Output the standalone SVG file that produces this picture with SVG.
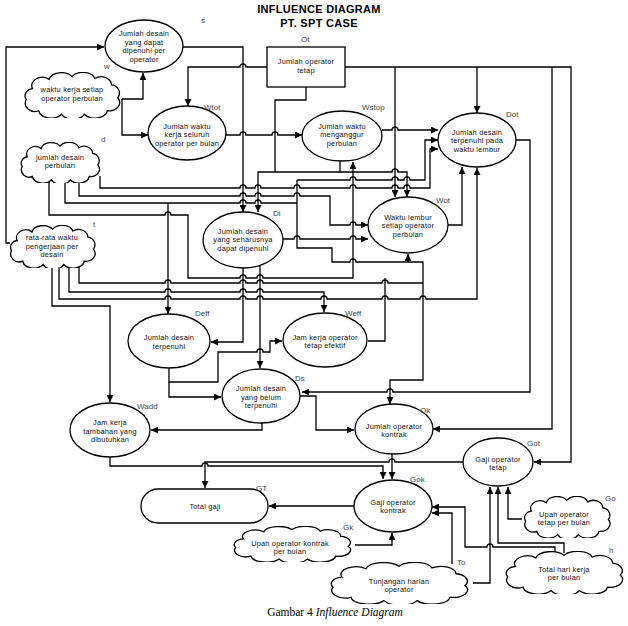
<svg xmlns="http://www.w3.org/2000/svg" xmlns:xlink="http://www.w3.org/1999/xlink" width="628" height="626" viewBox="0 0 628 626">
<style>
.n{fill:#fff;stroke:#000;stroke-width:1.3}
.t{font-family:"Liberation Sans",Arial,sans-serif;font-size:7.4px;letter-spacing:0.2px;fill:#111;text-anchor:middle}
.lb{font-family:"Liberation Sans",Arial,sans-serif;font-size:8px;fill:#444}
.c{fill:none;stroke:#000;stroke-width:1.3}
.a{marker-end:url(#ah)}
.ttl{font-family:"Liberation Sans",Arial,sans-serif;font-size:11px;font-weight:bold;letter-spacing:0.3px;text-anchor:middle}
.cap{font-family:"Liberation Serif","Times New Roman",serif;font-size:11.5px;text-anchor:middle}
</style>
<defs>
<marker id="ah" viewBox="0 0 8 8" refX="8" refY="4" markerWidth="7" markerHeight="7" markerUnits="userSpaceOnUse" orient="auto"><path d="M0,0 L8,4 L0,8 z" fill="#000"/></marker>
<symbol id="cloud" viewBox="0 0 100 50" preserveAspectRatio="none"><path vector-effect="non-scaling-stroke" fill="#fff" stroke="#000" stroke-width="1.3" d="M12,18 A10,9 0 0 1 28,8 A12,9 0 0 1 50,5 A12,9 0 0 1 72,7 A10,9 0 0 1 88,14 A9,9 0 0 1 94,28 A10,9 0 0 1 84,42 A12,9 0 0 1 62,46 A12,9 0 0 1 40,46 A12,9 0 0 1 18,42 A9,9 0 0 1 6,30 A8,8 0 0 1 12,18 Z"/></symbol>
</defs>
<rect width="628" height="626" fill="#fff"/>
<text class="ttl" x="319" y="13">INFLUENCE DIAGRAM</text>
<text class="ttl" x="319" y="26.5">PT. SPT CASE</text>

<g id="connectors">
<path class="c a" d="M10,243 H6 V47 H104"/>
<path class="c a" d="M122,99 H143 V73"/>
<path class="c a" d="M122,99 V135 H148"/>
<path class="c a" d="M183,47 H243 V212"/>
<path class="c a" d="M267,67 H246 a3,3 0 0 0 -6,0 H188 V106"/>
<path class="c a" d="M345,67 H571 V462 H534"/>
<path class="c a" d="M477,67 V113"/>
<path class="c a" d="M395,67 V197"/>
<path class="c a" d="M552,67 V429 H433"/>
<path class="c a" d="M226,135 H240 a3,3 0 0 1 6,0 H272 a3,3 0 0 1 6,0 H302"/>
<path class="c a" d="M382,130 H392 a3,3 0 0 1 6,0 H438"/>
<path class="c a" d="M340,161 V172 H258 V212"/>
<path class="c a" d="M340,172 H392 a3,3 0 0 1 6,0 H407 V197"/>
<path class="c" d="M306,87 V100 H275 V172"/>
<path class="c a" d="M100,176 V188 H240 a3,3 0 0 1 6,0 H255 a3,3 0 0 1 6,0 H294 a3,3 0 0 1 6,0 H350 a3,3 0 0 1 6,0 H392 a3,3 0 0 1 6,0 H404 a3,3 0 0 1 6,0 H430 V149 H438"/>
<path class="c a" d="M79,179 V196 H240 a3,3 0 0 1 6,0 H255 a3,3 0 0 1 6,0 H294 a3,3 0 0 1 6,0 H330 V225 H350 a3,3 0 0 1 6,0 H368"/>
<path class="c" d="M65,180 V203 H240 a3,3 0 0 1 6,0 H255 a3,3 0 0 1 6,0 H297"/>
<path class="c a" d="M168,203 V314"/>
<path class="c a" d="M297,180 V248 H332 V262 H350 a3,3 0 0 1 6,0 H423 V380 H390 V404"/>
<path class="c a" d="M408,262 V254"/>
<path class="c a" d="M297,180 H350 a3,3 0 0 1 6,0 H392 a3,3 0 0 1 6,0 H404 a3,3 0 0 1 6,0 H425 V140 H438"/>
<path class="c a" d="M49,181 V215 H165 a3,3 0 0 1 6,0 H188 V278 H240 a3,3 0 0 1 6,0 H257 a3,3 0 0 1 6,0 H353 V162"/>
<path class="c" d="M368,341 H385 V278"/>
<path class="c" d="M79,265 V283 H165 a3,3 0 0 1 6,0 H240 a3,3 0 0 1 6,0 H257 a3,3 0 0 1 6,0 H382 a3,3 0 0 1 6,0 H423"/>
<path class="c a" d="M69,266 V292 H165 a3,3 0 0 1 6,0 H240 a3,3 0 0 1 6,0 H257 a3,3 0 0 1 6,0 H324 V312"/>
<path class="c a" d="M59,266 V299 H165 a3,3 0 0 1 6,0 H240 a3,3 0 0 1 6,0 H257 a3,3 0 0 1 6,0 H321 a3,3 0 0 1 6,0 H382 a3,3 0 0 1 6,0 H420 a3,3 0 0 1 6,0 H477 V168"/>
<path class="c a" d="M52,264 V306 H110 V402"/>
<path class="c a" d="M243,268 V342 H211"/>
<path class="c a" d="M260,265 V368"/>
<path class="c a" d="M283,239 H294 a3,3 0 0 1 6,0 H350 a3,3 0 0 1 6,0 H368"/>
<path class="c a" d="M169,368 V382 H218 V352 H257 a3,3 0 0 1 6,0 H270 V341 H282"/>
<path class="c a" d="M169,382 V397 H221"/>
<path class="c a" d="M262,423 V430 H151"/>
<path class="c a" d="M300,396 H316 V430 H354"/>
<path class="c a" d="M516,140 H530 V392 H393 a3,3 0 0 0 -6,0 H302"/>
<path class="c a" d="M448,225 H462 V167"/>
<path class="c a" d="M110,457 V466 H202 a3,3 0 0 1 6,0 H383 V479"/>
<path class="c a" d="M463,462 H395 a3,3 0 0 0 -6,0 H205 V488"/>
<path class="c a" d="M392,454 V479"/>
<path class="c a" d="M354,506 H269"/>
<path class="c a" d="M355,545 H392 V533"/>
<path class="c a" d="M452,564 V513 H432"/>
<path class="c a" d="M555,553 V547 H493 a3,3 0 0 0 -6,0 H465 V507 H432"/>
<path class="c a" d="M564,553 V543 H498 V487"/>
<path class="c a" d="M473,583 H490 V487"/>
<path class="c a" d="M522,519 H508 V487"/>
</g>

<g id="s"><ellipse class="n" cx="144" cy="46" rx="39" ry="26"/>
<text class="t" x="144" y="36">Jumlah desain</text><text class="t" x="144" y="44.5">yang dapat</text><text class="t" x="144" y="53">dipenuhi per</text><text class="t" x="144" y="61.5">operator</text>
<text class="lb" x="201" y="23">s</text></g>

<g id="w"><use href="#cloud" x="20" y="72" width="104" height="46"/>
<text class="t" x="72" y="92">waktu kerja setiap</text><text class="t" x="72" y="100.5">operator perbulan</text>
<text class="lb" x="104" y="69">w</text></g>

<g id="Wtot"><ellipse class="n" cx="187" cy="133" rx="39" ry="27"/>
<text class="t" x="187" y="128.5">Jumlah waktu</text><text class="t" x="187" y="137">kerja seluruh</text><text class="t" x="187" y="145.5">operator per bulan</text>
<text class="lb" x="204" y="110">Wtot</text></g>

<g id="Ot"><rect class="n" x="267" y="47" width="78" height="40"/>
<text class="t" x="306" y="64">Jumlah operator</text><text class="t" x="306" y="72.5">tetap</text>
<text class="lb" x="301" y="42">Ot</text></g>

<g id="Wstop"><ellipse class="n" cx="342" cy="136" rx="40" ry="25"/>
<text class="t" x="342" y="128.5">Jumlah waktu</text><text class="t" x="342" y="137">menganggur</text><text class="t" x="342" y="145.5">perbulan</text>
<text class="lb" x="362" y="110">Wstop</text></g>

<g id="Dot"><ellipse class="n" cx="477" cy="140" rx="39" ry="27"/>
<text class="t" x="477" y="134.5">Jumlah desain</text><text class="t" x="477" y="143">terpenuhi pada</text><text class="t" x="477" y="151.5">waktu lembur</text>
<text class="lb" x="506" y="117">Dot</text></g>

<g id="d"><use href="#cloud" x="17" y="142" width="86" height="41"/>
<text class="t" x="60" y="159.5">jumlah desain</text><text class="t" x="60" y="168">perbulan</text>
<text class="lb" x="101" y="142">d</text></g>

<g id="Di"><ellipse class="n" cx="243" cy="240" rx="40" ry="28"/>
<text class="t" x="243" y="233.5">Jumlah desain</text><text class="t" x="243" y="242">yang seharusnya</text><text class="t" x="243" y="250.5">dapat dipenuhi</text>
<text class="lb" x="273" y="216">Di</text></g>

<g id="Wot"><ellipse class="n" cx="408" cy="225" rx="40" ry="28"/>
<text class="t" x="408" y="219.5">Waktu lembur</text><text class="t" x="408" y="228">setiap operator</text><text class="t" x="408" y="236.5">perbulan</text>
<text class="lb" x="436" y="203">Wot</text></g>

<g id="t"><use href="#cloud" x="6" y="225" width="93" height="43"/>
<text class="t" x="52" y="240">rata-rata waktu</text><text class="t" x="52" y="248.5">pengerjaan per</text><text class="t" x="52" y="257">desain</text>
<text class="lb" x="93" y="227">t</text></g>

<g id="Deff"><ellipse class="n" cx="169" cy="341" rx="41" ry="27"/>
<text class="t" x="169" y="340">Jumlah desain</text><text class="t" x="169" y="348.5">terpenuhi</text>
<text class="lb" x="195" y="316">Deff</text></g>

<g id="Weff"><ellipse class="n" cx="325" cy="340" rx="42" ry="27"/>
<text class="t" x="325" y="339.5">Jam kerja operator</text><text class="t" x="325" y="348">tetap efektif</text>
<text class="lb" x="345" y="316">Weff</text></g>

<g id="Ds"><ellipse class="n" cx="261" cy="396" rx="39" ry="27"/>
<text class="t" x="261" y="391">Jumlah desain</text><text class="t" x="261" y="399.5">yang belum</text><text class="t" x="261" y="408">terpenuhi</text>
<text class="lb" x="295" y="381">Ds</text></g>

<g id="Wadd"><ellipse class="n" cx="110" cy="430" rx="40" ry="27"/>
<text class="t" x="110" y="425">Jam kerja</text><text class="t" x="110" y="433.5">tambahan yang</text><text class="t" x="110" y="442">dibutuhkan</text>
<text class="lb" x="137" y="409">Wadd</text></g>

<g id="Ok"><ellipse class="n" cx="394" cy="429" rx="39" ry="25"/>
<text class="t" x="394" y="428.5">Jumlah operator</text><text class="t" x="394" y="437">kontrak</text>
<text class="lb" x="420" y="413">Ok</text></g>

<g id="Got"><ellipse class="n" cx="498" cy="462" rx="35" ry="24"/>
<text class="t" x="498" y="461.5">Gaji operator</text><text class="t" x="498" y="470">tetap</text>
<text class="lb" x="527" y="446">Got</text></g>

<g id="GT"><rect class="n" x="141" y="489" width="127" height="34" rx="17" ry="17"/>
<text class="t" x="205" y="509">Total gaji</text>
<text class="lb" x="256" y="491">GT</text></g>

<g id="Gok"><ellipse class="n" cx="393" cy="506" rx="39" ry="26"/>
<text class="t" x="393" y="504.5">Gaji operator</text><text class="t" x="393" y="513">kontrak</text>
<text class="lb" x="410" y="482">Gok</text></g>

<g id="Go"><use href="#cloud" x="520" y="496" width="94" height="42"/>
<text class="t" x="564" y="516.5">Upah operator</text><text class="t" x="564" y="525">tetap per bulan</text>
<text class="lb" x="605" y="501">Go</text></g>

<g id="Gk"><use href="#cloud" x="228" y="526" width="128" height="36"/>
<text class="t" x="290" y="545.5">Upah operator kontrak</text><text class="t" x="290" y="554">per bulan</text>
<text class="lb" x="343" y="530">Gk</text></g>

<g id="h"><use href="#cloud" x="500" y="551" width="128" height="43"/>
<text class="t" x="564" y="571.5">Total hari kerja</text><text class="t" x="564" y="580">per bulan</text>
<text class="lb" x="609" y="553">h</text></g>

<g id="To"><use href="#cloud" x="324" y="562" width="150" height="42"/>
<text class="t" x="399" y="583.5">Tunjangan harian</text><text class="t" x="399" y="592">operator</text>
<text class="lb" x="457" y="565">To</text></g>

<text class="cap" x="335" y="616">Gambar 4 <tspan font-style="italic">Influence Diagram</tspan></text>
</svg>
